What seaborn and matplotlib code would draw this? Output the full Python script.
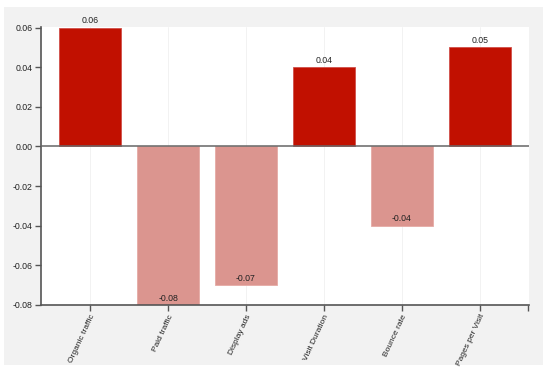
import matplotlib
matplotlib.use("Agg")
import matplotlib.pyplot as plt
import seaborn as sns
import pandas as pd
from matplotlib.patches import Rectangle

categories = ["Organic traffic", "Paid traffic", "Display ads", "Visit Duration", "Bounce rate", "Pages per Visit"]
values = [0.06, -0.08, -0.07, 0.04, -0.04, 0.05]
yticks = [-0.08, -0.06, -0.04, -0.02, 0.00, 0.02, 0.04, 0.06]

sns.set_theme(style="white")
plt.rcParams['font.family'] = ['Liberation Sans', 'DejaVu Sans']

df = pd.DataFrame({"cat": categories, "val": values})
df["sign"] = ["pos" if v >= 0 else "neg" for v in values]
palette = {"pos": "#c11000", "neg": "#db958f"}
edges = {"pos": "#d0504a", "neg": "#e5aaa5"}

fig = plt.figure(figsize=(5.5, 3.7), dpi=100)
fig.patch.set_facecolor("white")
fig.patches.append(Rectangle((4/550, 1-365/370), 539/550, 358/370, transform=fig.transFigure,
                             facecolor="#f2f2f2", edgecolor="none", zorder=-10))
ax = fig.add_axes([41/550, 1-305/370, 488/550, 278/370])
ax.set_facecolor("white")

sns.barplot(data=df, x="cat", y="val", hue="sign", palette=palette, order=categories,
            width=0.8, dodge=False, legend=False, ax=ax, saturation=1, zorder=2)
for bar in ax.patches:
    h = bar.get_height()
    bar.set_edgecolor(edges["pos"] if h >= 0 else edges["neg"])
    bar.set_linewidth(0.6)

ax.set_xlim(-0.63, 5.63)
ax.set_ylim(-0.08, 0.0603)
ax.set_yticks(yticks)
ax.set_yticklabels([f"{t:.2f}" for t in yticks])
ax.set_xlabel("")
ax.set_ylabel("")

for i, v in enumerate(values):
    ax.text(i, v + 0.0012, f"{v:.2f}", ha="center", va="bottom", fontsize=6.3, color="#222222")

ax.axhline(0, color="#666666", lw=1.1, zorder=3)
for i in range(len(categories)):
    ax.axvline(i, color="#f0f0f0", lw=0.6, zorder=0)

for s in ["top", "right"]:
    ax.spines[s].set_visible(False)
for s in ["left", "bottom"]:
    ax.spines[s].set_color("#555555")
    ax.spines[s].set_linewidth(1.2)

ax.tick_params(axis="both", which="both", direction="out", length=4, width=1, color="#555555",
               labelsize=6.3, labelcolor="#222222", left=True, bottom=True, pad=2)
ax.set_xticks(list(range(len(categories))) + [5.62])
ax.set_xticklabels(categories + [""], rotation=65, ha="right", rotation_mode="anchor", fontsize=6)

fig.savefig("out.png", dpi=100)
